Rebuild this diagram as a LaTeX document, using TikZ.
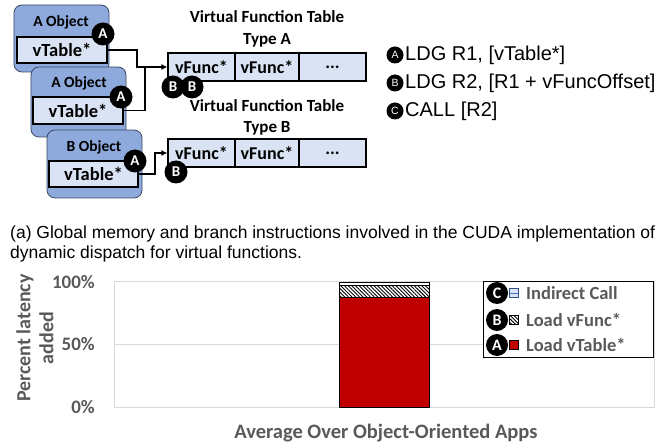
\documentclass[tikz,border=0pt]{standalone}
\usepackage{fontspec}
\setmainfont{Liberation Sans}
\newfontfamily\carl{Carlito}
\usetikzlibrary{patterns,patterns.meta,arrows.meta}
\definecolor{objfill}{HTML}{8EA9DB}
\definecolor{cellfill}{HTML}{DAE3F3}
\definecolor{objline}{HTML}{3A4A66}
\definecolor{txtgray}{HTML}{595959}
\definecolor{gridgray}{HTML}{D9D9D9}
\definecolor{barred}{HTML}{C00000}
\definecolor{swblue}{HTML}{4472C4}
\newcommand{\fsz}[1]{\fontsize{#1bp}{#1bp}\selectfont}
\tikzset{
  objbox/.style={draw=objline, fill=objfill, rounded corners=8bp, line width=0.8bp, inner sep=0pt},
  objlabel/.style={font=\carl\bfseries\fsz{15.5}, inner sep=0pt},
  vtab/.style={draw=black, fill=cellfill, line width=1.4bp, minimum width=90bp, minimum height=26bp, inner sep=0pt, font=\carl\bfseries\fsz{18.5}},
  cell/.style={draw=black, fill=cellfill, line width=1.2bp, minimum height=28bp, inner sep=0pt, font=\carl\bfseries\fsz{18}},
  ttl/.style={font=\carl\bfseries\fsz{17}, inner sep=0pt},
  badge/.style={circle, fill=black, text=white, inner sep=0pt, minimum size=23bp, font=\carl\bfseries\fsz{15}},
  sbadge/.style={circle, fill=black, text=white, inner sep=0pt, minimum size=17bp, font=\fsz{10.5}},
  lbadge/.style={circle, fill=black, text=white, inner sep=0pt, minimum size=22bp, font=\carl\bfseries\fsz{16}},
  conn/.style={line width=1.8bp, draw=black},
  arr/.style={conn, -{Latex[length=6bp,width=6bp]}},
  insn/.style={anchor=west, inner sep=0pt, font=\fsz{20}},
  gtxt/.style={text=txtgray, font=\carl\bfseries\fsz{19}, inner sep=0pt},
  legtxt/.style={anchor=west, text=txtgray, font=\carl\bfseries\fsz{18.5}, inner sep=0pt},
  swatch/.style={draw=black, line width=0.6bp, minimum size=9bp, inner sep=0pt},
  hatch/.style={pattern={Lines[angle=-45, distance=2.6bp, line width=0.9bp]}},
}
\begin{document}
\begin{tikzpicture}[x=1bp, y=-1bp]
\useasboundingbox (0,0) rectangle (668,445);

% ---- objects ----
\node[objbox, minimum width=95bp, minimum height=67bp] (o1) at (61.5,38.5) {};
\node[objlabel] (o1l) at (61,22) {A Object};
\node[vtab] (v1) at (62,50) {vTable*};
\node[badge] (a1c) at (103,34) {A};

\node[objbox, minimum width=95bp, minimum height=70bp] (o2) at (78.5,102) {};
\node[objlabel] (o2l) at (79,83) {A Object};
\node[vtab, minimum height=27bp] (v2) at (78,110.5) {vTable*};
\node[badge] (a2c) at (121,97) {A};

\node[objbox, minimum width=95bp, minimum height=68bp] (o3) at (94.5,164) {};
\node[objlabel] (o3l) at (94,147) {B Object};
\node[vtab, minimum width=89bp] (v3) at (93.5,174) {vTable*};
\node[badge] (a3c) at (135,161) {A};

% ---- tables ----
\node[ttl] (ta1) at (267,17) {Virtual Function Table};
\node[ttl] (ta2) at (267,40) {Type A};
\node[cell, minimum width=67bp] (ca1) at (201.5,67) {vFunc*};
\node[cell, minimum width=64bp] (ca2) at (267,67) {vFunc*};
\node[cell, minimum width=67bp] (ca3) at (332.5,67) {...};

\node[ttl] (tb1) at (267,106) {Virtual Function Table};
\node[ttl] (tb2) at (267,128) {Type B};
\node[cell, minimum width=67bp] (cb1) at (201.5,153) {vFunc*};
\node[cell, minimum width=64bp] (cb2) at (267,153) {vFunc*};
\node[cell, minimum width=67bp] (cb3) at (332.5,153) {...};

% ---- connectors ----
\coordinate (j1) at (137,50);
\coordinate (j2) at (145,68);
\coordinate (j3) at (155,174);
\draw[arr] (v1.east) -- (j1) |- (ca1.west);
\draw[conn] (v2.east) -| (j2);
\draw[arr] (v3.east) -- (j3) |- (cb1.west);

\node[badge] (b1c) at (173,87) {B};
\node[badge] (b2c) at (192,87) {B};
\node[badge] (b3c) at (176,172) {B};

% ---- instruction legend ----
\node[sbadge] (ia) at (395,55) {A};
\node[insn] (it1) at (405,55) {LDG R1, [vTable*]};
\node[sbadge] (ib) at (395,83) {B};
\node[insn] (it2) at (405,83) {LDG R2, [R1 + vFuncOffset]};
\node[sbadge] (ic) at (395,111) {C};
\node[insn] (it3) at (405,111) {CALL [R2]};

% ---- caption ----
\node[anchor=base west, inner sep=0pt, font=\fsz{17.5}] (cap1) at (10,239) {(a) Global memory and branch instructions involved in the CUDA implementation of};
\node[anchor=base west, inner sep=0pt, font=\fsz{17.5}] (cap2) at (10,259) {dynamic dispatch for virtual functions.};

% ---- chart ----
\draw[gridgray, line width=1bp] (114,282) rectangle (654,407);
\draw[gridgray, line width=1bp] (114,344) -- (654,344);
\node[gtxt, anchor=east] (t100) at (95,282) {100\%};
\node[gtxt, anchor=east] (t50) at (95,344) {50\%};
\node[gtxt, anchor=east] (t0) at (95,407) {0\%};
\node[text=txtgray, font=\carl\bfseries\fsz{20}, align=center, rotate=90, inner sep=0pt] (ytitle) at (35,338) {\fsz{20}Percent latency\\[3bp]added};
\node[text=txtgray, font=\carl\bfseries\fsz{20.5}, inner sep=0pt] (xtitle) at (386,433) {Average Over Object-Oriented Apps};

\draw[fill=barred, draw=black, line width=0.8bp] (339,297) rectangle (429,407);
\draw[hatch, draw=black, line width=0.8bp] (339,285) rectangle (429,297);
\draw[fill=white, draw=black, line width=0.8bp] (339,282) rectangle (429,285);

% ---- chart legend ----
\node[draw=black, fill=white, line width=1bp, minimum width=170bp, minimum height=75bp, inner sep=0pt] (leg) at (568,319.5) {};
\node[lbadge] (lc) at (497,293) {C};
\node[swatch, draw=swblue!70!black, fill=cellfill, path picture={\draw[swblue] (path picture bounding box.west) -- (path picture bounding box.east);}] (sc) at (513.5,293) {};
\node[legtxt] (lct) at (526,293) {Indirect Call};
\node[lbadge] (lb) at (497,320) {B};
\node[swatch, hatch] (sb) at (513.5,320) {};
\node[legtxt] (lbt) at (526,320) {Load vFunc*};
\node[lbadge] (la) at (497,345) {A};
\node[swatch, fill=barred] (sa) at (513.5,345) {};
\node[legtxt] (lat) at (526,345) {Load vTable*};
\end{tikzpicture}
\end{document}
